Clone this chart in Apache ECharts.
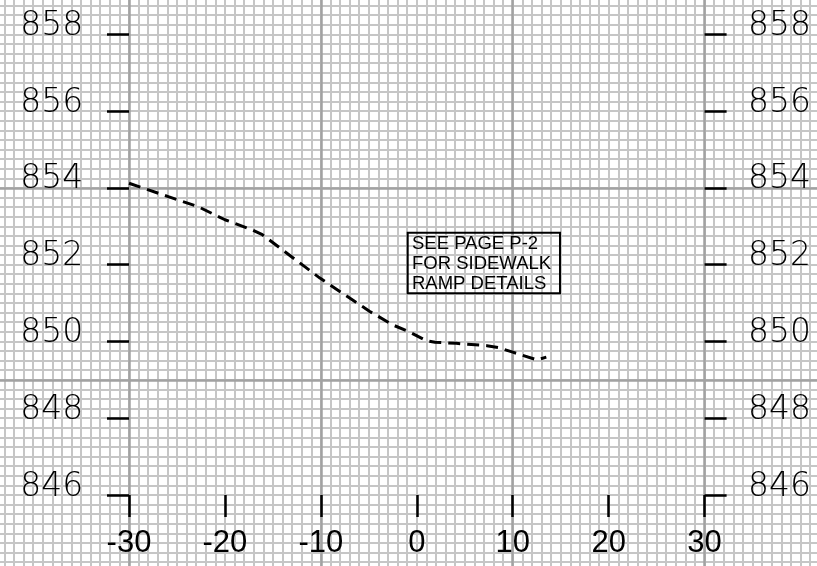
<!DOCTYPE html>
<html>
<head>
<meta charset="utf-8">
<style>
  html, body { margin: 0; padding: 0; background: #ffffff; }
  #chart { width: 817px; height: 566px; }
</style>
<script src="https://cdn.jsdelivr.net/npm/echarts@6/dist/echarts.min.js"></script>
</head>
<body>
<div id="chart"></div>
<script>
// ---- data ----
const stationX = [-30, -25.9, -22.8, -20, -17.2, -16.1, -10.1, -4.9, -2.5, -0.9, 1.0, 1.9, 4.1, 7.3, 8.5, 10.0, 12.5, 13.5];
const elevY    = [854.12, 853.77, 853.51, 853.17, 852.91, 852.78, 851.65, 850.78, 850.43, 850.26, 850.02, 849.98, 849.95, 849.89, 849.84, 849.72, 849.52, 849.59];
const stationTicks = [-30, -20, -10, 0, 10, 20, 30];
const elevTicks = [846, 848, 850, 852, 854, 856, 858];
const noteLines = ['SEE PAGE P-2', 'FOR SIDEWALK', 'RAMP DETAILS'];

const series = stationX.map((x, i) => [x, elevY[i]]);

// main plotting frame (pixels)
const W = 817, H = 566;
const L = 129, R = 704.6, T = 34.3, B = 495;
const sx = (R - L) / 60, sy = (B - T) / 12;

const chart = echarts.init(document.getElementById('chart'), null, { renderer: 'canvas' });

const hidden = { show: false };
const noLine = { show: false, onZero: false };
const minorLine = { show: true, lineStyle: { color: '#c6c6c6', width: 2 } };
const majorLine = { show: true, lineStyle: { color: '#a2a2a2', width: 2.5 } };
function bgAxis(grid, min, max, interval, split, z) {
  return { gridIndex: grid, type: 'value', min: min, max: max, interval: interval, z: z || 0,
           axisLine: noLine, axisTick: hidden, axisLabel: hidden, splitLine: split };
}

const tickStyle = { show: true, inside: false, length: 22, lineStyle: { color: '#000', width: 2.5 } };
const yLabel = {
  fontFamily: '"DejaVu Sans"', fontWeight: '200', fontSize: 33, color: '#000',
  verticalAlign: 'bottom', lineHeight: 16
};

chart.setOption({
  animation: false,
  backgroundColor: '#ffffff',
  grid: [
    // 0: minor verticals (full height)
    { left: L - 13 * sx, width: 84 * sx, top: 0, height: H },
    // 1: minor horizontals (full width)
    { left: 0, width: W, top: T - 0.75 * sy, height: 14.5 * sy },
    // 2: major verticals
    { left: L, width: R - L, top: 0, height: H },
    // 3: major horizontals
    { left: 0, width: W, top: T + 4 * sy, height: 5 * sy },
    // 4: profile frame
    { left: L, width: R - L, top: T, height: B - T }
  ],
  xAxis: [
    bgAxis(0, -43, 41, 1, minorLine),
    bgAxis(1, 0, 1, 1, hidden),
    bgAxis(2, -30, 30, 20, majorLine, 1),
    bgAxis(3, 0, 1, 1, hidden),
    { gridIndex: 4, type: 'value', min: stationTicks[0], max: stationTicks[stationTicks.length - 1], interval: 10, position: 'bottom', z: 3,
      axisLine: noLine, axisTick: tickStyle, splitLine: hidden,
      axisLabel: { show: true, margin: 33, fontFamily: '"Liberation Sans", Arial', fontSize: 31, color: '#000' } }
  ],
  yAxis: [
    bgAxis(0, 0, 1, 1, hidden),
    bgAxis(1, 844.25, 858.75, 0.25, minorLine),
    bgAxis(2, 0, 1, 1, hidden),
    bgAxis(3, 849, 854, 5, majorLine, 1),
    { gridIndex: 4, type: 'value', min: elevTicks[0], max: elevTicks[elevTicks.length - 1], interval: 2, position: 'left', z: 3,
      axisLine: noLine, axisTick: tickStyle, splitLine: hidden,
      axisLabel: Object.assign({ show: true, margin: 45.7 }, yLabel) },
    { gridIndex: 4, type: 'value', min: elevTicks[0], max: elevTicks[elevTicks.length - 1], interval: 2, position: 'right', z: 3,
      axisLine: noLine, axisTick: tickStyle, splitLine: hidden,
      axisLabel: Object.assign({ show: true, margin: 43.4 }, yLabel) }
  ],
  series: [
    {
      type: 'line', xAxisIndex: 4, yAxisIndex: 4, data: series, symbol: 'none', smooth: false, z: 5,
      lineStyle: { color: '#000', width: 3, type: [12, 7] }
    }
  ],
  graphic: [
    { type: 'rect', z: 10, shape: { x: 407.7, y: 232.7, width: 152.3, height: 60.6 },
      style: { fill: 'none', stroke: '#000', lineWidth: 2 } },
    { type: 'text', z: 10, x: 412, y: 233.5,
      style: { text: noteLines.join('\n'), font: '18.5px "Liberation Sans", Arial, sans-serif', fill: '#000', lineHeight: 20, verticalAlign: 'top' } }
  ]
});
</script>
</body>
</html>
